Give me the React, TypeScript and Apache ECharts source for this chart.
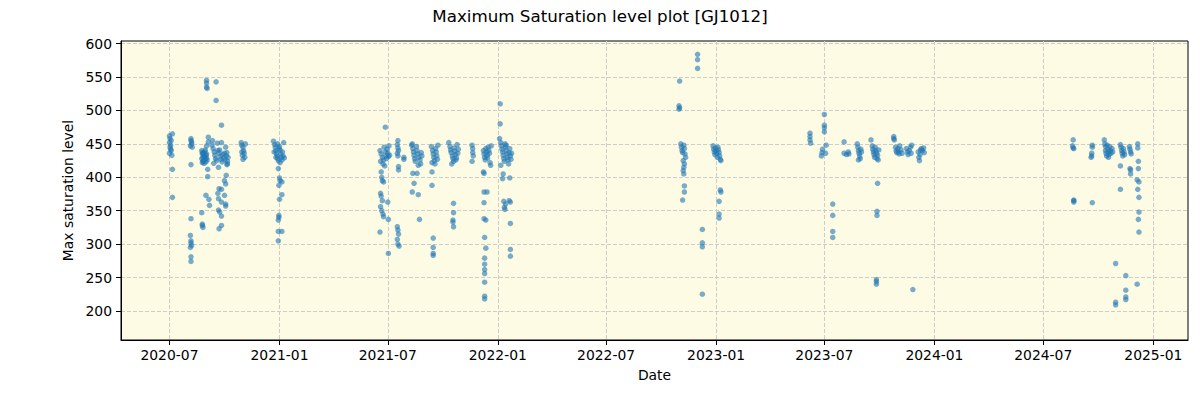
import React, { useEffect, useRef } from "react";
import * as echarts from "echarts";

type Obs = [string, number];

const titleText = "Maximum Saturation level plot [GJ1012]";
const xAxisName = "Date";
const yAxisName = "Max saturation level";

const xTickDates = ["2020-07-01", "2021-01-01", "2021-07-01", "2022-01-01", "2022-07-01", "2023-01-01", "2023-07-01", "2024-01-01", "2024-07-01", "2025-01-01"];
const yTickValues = [200, 250, 300, 350, 400, 450, 500, 550, 600];
const xRange = ["2020-04-11", "2025-02-28"];
const yRange = [156.5, 604];

const obs2020: Obs[] = [
  ["2020-07-01",462],["2020-07-02",458],["2020-07-01",452],["2020-07-03",448],["2020-07-02",445],["2020-07-04",440],["2020-07-01",436],["2020-07-05",433],["2020-07-04",455],["2020-07-06",465],["2020-07-03",442],["2020-07-06",412],["2020-07-06",370],
  ["2020-08-06",458],["2020-08-06",455],["2020-08-07",450],["2020-08-05",447],["2020-08-08",445],["2020-08-07",453],["2020-08-06",419],["2020-08-06",338],["2020-08-05",313],["2020-08-06",305],["2020-08-06",302],["2020-08-07",298],["2020-08-05",295],["2020-08-06",281],["2020-08-06",274],
  ["2020-08-24",440],["2020-08-25",435],["2020-08-26",430],["2020-08-24",428],["2020-08-27",425],["2020-08-25",422],["2020-08-28",432],["2020-08-29",438],["2020-08-30",427],["2020-08-31",433],["2020-09-01",429],["2020-08-27",436],["2020-08-26",424],["2020-08-28",421],["2020-08-30",441],["2020-09-02",426],["2020-08-29",431],["2020-08-25",437],["2020-08-31",423],["2020-09-01",435],
  ["2020-08-24",347],["2020-08-25",330],["2020-08-25",328],["2020-08-26",325],["2020-09-01",545],["2020-09-01",541],["2020-09-01",535],["2020-09-02",533],["2020-08-31",373],["2020-09-03",412],["2020-09-03",401],["2020-09-04",460],["2020-09-04",453],["2020-09-05",367],["2020-09-06",358],["2020-09-01",447],
  ["2020-09-10",448],["2020-09-12",443],["2020-09-14",438],["2020-09-15",433],["2020-09-16",428],["2020-09-18",425],["2020-09-20",440],["2020-09-22",436],["2020-09-24",431],["2020-09-25",427],["2020-09-27",423],["2020-09-28",434],["2020-09-30",429],["2020-10-02",426],["2020-10-04",432],["2020-10-05",437],["2020-10-06",424],["2020-10-07",430],["2020-09-11",455],["2020-09-19",451],["2020-09-26",452],["2020-10-03",445],["2020-09-13",421],["2020-09-23",441],["2020-10-01",436],["2020-10-06",420],
  ["2020-09-17",543],["2020-09-17",515],["2020-09-26",478],["2020-09-21",415],["2020-10-05",419],["2020-10-04",403],["2020-10-01",395],["2020-10-03",390],["2020-09-22",383],["2020-09-26",382],["2020-09-20",376],["2020-10-01",373],["2020-09-21",368],["2020-09-26",363],["2020-10-03",360],["2020-10-03",357],["2020-09-21",351],["2020-09-23",348],["2020-09-26",342],["2020-09-26",328],["2020-09-22",323],
  ["2020-10-29",452],["2020-10-30",448],["2020-11-01",445],["2020-11-02",440],["2020-11-03",436],["2020-10-31",433],["2020-11-04",430],["2020-11-01",427],["2020-11-05",450],["2020-10-30",438],
  ["2020-12-22",454],["2020-12-24",449],["2020-12-25",445],["2020-12-26",440],["2020-12-27",436],["2020-12-28",432],["2020-12-29",428],["2020-12-30",425],["2020-12-31",443],["2020-12-23",438],["2020-12-26",430],["2020-12-29",450],
  ["2021-01-01",446],["2021-01-02",441],["2021-01-03",435],["2021-01-04",430],["2021-01-05",426],["2021-01-06",438],["2021-01-07",432],["2021-01-08",452],["2021-01-02",422],["2021-01-09",429],
  ["2020-12-30",413],["2021-01-01",399],["2021-01-02",395],["2020-12-31",388],["2021-01-05",393],["2021-01-05",374],["2021-01-01",367],["2020-12-31",343],["2020-12-31",340],["2020-12-30",336],["2020-12-30",319],["2021-01-05",319],["2020-12-30",305],
];

const obs2021: Obs[] = [
  ["2021-06-18",440],["2021-06-20",435],["2021-06-22",430],["2021-06-24",426],["2021-06-25",445],["2021-06-27",438],["2021-06-28",432],["2021-06-29",428],["2021-06-30",442],["2021-07-01",436],["2021-07-02",431],["2021-07-03",447],["2021-06-19",424],["2021-06-23",420],["2021-06-26",417],["2021-07-04",433],
  ["2021-06-27",475],["2021-06-20",408],["2021-06-21",400],["2021-06-22",395],["2021-06-24",393],["2021-06-19",376],["2021-06-20",372],["2021-06-22",365],["2021-06-19",356],["2021-06-21",350],["2021-06-23",345],["2021-06-24",341],["2021-07-01",363],["2021-07-02",337],["2021-06-18",318],["2021-07-02",286],
  ["2021-07-18",455],["2021-07-17",449],["2021-07-18",444],["2021-07-19",440],["2021-07-17",436],["2021-07-18",432],["2021-07-19",416],["2021-07-19",411],["2021-07-28",430],["2021-07-28",427],
  ["2021-07-17",326],["2021-07-18",321],["2021-07-19",315],["2021-07-17",307],["2021-07-18",300],["2021-07-20",297],
  ["2021-08-10",448],["2021-08-12",443],["2021-08-13",438],["2021-08-14",433],["2021-08-15",428],["2021-08-16",424],["2021-08-18",446],["2021-08-19",440],["2021-08-20",435],["2021-08-22",430],["2021-08-24",426],["2021-08-25",420],["2021-08-26",437],["2021-08-11",450],["2021-08-21",418],["2021-08-27",432],
  ["2021-08-12",406],["2021-08-19",406],["2021-08-14",391],["2021-08-11",378],["2021-08-21",374],["2021-08-23",337],
  ["2021-09-12",446],["2021-09-14",440],["2021-09-15",435],["2021-09-16",430],["2021-09-17",425],["2021-09-18",420],["2021-09-19",443],["2021-09-20",438],["2021-09-21",432],["2021-09-22",427],["2021-09-23",448],["2021-09-13",422],
  ["2021-09-13",408],["2021-09-13",388],["2021-09-15",309],["2021-09-15",295],["2021-09-15",286],["2021-09-15",283],
  ["2021-10-11",452],["2021-10-13",446],["2021-10-14",441],["2021-10-15",437],["2021-10-17",432],["2021-10-18",428],["2021-10-19",424],["2021-10-20",444],["2021-10-21",439],["2021-10-22",434],["2021-10-24",429],["2021-10-25",449],["2021-10-26",436],["2021-10-27",442],["2021-10-16",420],["2021-10-23",426],
  ["2021-10-19",361],["2021-10-19",347],["2021-10-18",336],["2021-10-18",333],["2021-10-19",326],
  ["2021-11-19",448],["2021-11-20",443],["2021-11-20",437],["2021-11-21",432],["2021-11-19",424],
  ["2021-12-08",440],["2021-12-09",435],["2021-12-10",430],["2021-12-11",426],["2021-12-12",443],["2021-12-13",438],["2021-12-14",433],["2021-12-15",429],["2021-12-16",445],["2021-12-17",440],["2021-12-18",436],["2021-12-19",422],["2021-12-20",418],["2021-12-21",447],
  ["2021-12-08",408],["2021-12-09",406],["2021-12-09",378],["2021-12-14",378],["2021-12-09",362],["2021-12-09",338],["2021-12-12",336],["2021-12-10",310],["2021-12-12",294],["2021-12-10",279],["2021-12-10",270],["2021-12-10",262],["2021-12-10",256],["2021-12-10",243],["2021-12-10",222],["2021-12-10",218],
];

const obs2022: Obs[] = [
  ["2022-01-05",510],["2022-01-05",480],["2022-01-04",458],["2022-01-06",452],["2022-01-07",447],["2022-01-08",442],["2022-01-09",438],["2022-01-10",433],["2022-01-11",428],["2022-01-12",424],["2022-01-13",450],["2022-01-14",445],["2022-01-15",440],["2022-01-16",435],["2022-01-17",430],["2022-01-18",426],["2022-01-19",420],["2022-01-20",437],["2022-01-21",443],["2022-01-22",432],["2022-01-23",427],["2022-01-06",418],["2022-01-15",448],["2022-01-24",436],
  ["2022-01-10",405],["2022-01-09",398],["2022-01-21",399],["2022-01-11",364],["2022-01-14",360],["2022-01-12",355],["2022-01-13",352],["2022-01-20",365],["2022-01-22",363],["2022-01-22",331],["2022-01-22",292],["2022-01-22",282],
  ["2022-11-01",544],["2022-10-31",507],["2022-11-01",504],["2022-10-31",502],["2022-11-03",450],["2022-11-04",445],["2022-11-05",440],["2022-11-06",437],["2022-11-08",448],["2022-11-09",443],["2022-11-10",435],["2022-11-11",430],["2022-11-07",425],["2022-11-09",420],["2022-11-08",415],["2022-11-07",410],["2022-11-08",405],["2022-11-09",387],["2022-11-09",378],["2022-11-06",366],
  ["2022-12-01",584],["2022-12-01",576],["2022-12-01",563],["2022-12-09",322],["2022-12-09",302],["2022-12-09",296],["2022-12-09",225],
  ["2022-12-27",447],["2022-12-28",442],["2022-12-29",438],["2022-12-30",434],["2022-12-31",444],
];

const obs2023: Obs[] = [
  ["2023-01-01",440],["2023-01-02",436],["2023-01-03",430],["2023-01-04",445],["2023-01-05",441],["2023-01-06",437],["2023-01-07",432],["2023-01-08",427],["2023-01-09",425],
  ["2023-01-08",381],["2023-01-09",378],["2023-01-06",364],["2023-01-06",345],["2023-01-06",339],
  ["2023-06-07",466],["2023-06-07",461],["2023-06-07",456],["2023-06-08",451],
  ["2023-07-01",494],["2023-07-01",478],["2023-07-01",474],["2023-07-01",468],["2023-07-04",448],["2023-06-28",442],["2023-06-27",437],["2023-07-03",436],["2023-06-26",432],
  ["2023-07-15",360],["2023-07-15",343],["2023-07-15",319],["2023-07-15",310],
  ["2023-08-03",453],["2023-08-03",436],["2023-08-07",434],["2023-08-10",438],["2023-08-11",435],
  ["2023-08-25",450],["2023-08-26",445],["2023-08-27",440],["2023-08-28",436],["2023-08-29",432],["2023-08-30",428],["2023-08-31",442],["2023-09-01",438],["2023-08-27",426],
  ["2023-09-17",456],["2023-09-19",447],["2023-09-20",442],["2023-09-21",438],["2023-09-22",434],["2023-09-23",430],["2023-09-24",445],["2023-09-25",440],["2023-09-26",436],["2023-09-27",428],["2023-09-28",433],["2023-09-29",426],["2023-09-30",441],
  ["2023-09-28",391],["2023-09-27",349],["2023-09-27",343],["2023-09-26",247],["2023-09-26",244],["2023-09-26",240],
  ["2023-10-25",461],["2023-10-25",458],["2023-10-26",456],["2023-10-28",445],["2023-10-29",440],["2023-10-30",437],["2023-11-01",443],["2023-11-02",438],["2023-11-03",435],["2023-11-04",447],["2023-11-06",441],["2023-11-08",436],
  ["2023-11-15",443],["2023-11-17",438],["2023-11-18",434],["2023-11-20",440],["2023-11-22",445],["2023-11-23",436],["2023-11-24",448],["2023-11-26",232],
  ["2023-12-05",438],["2023-12-06",430],["2023-12-07",425],["2023-12-08",434],["2023-12-09",441],["2023-12-10",443],["2023-12-12",440],["2023-12-14",444],["2023-12-15",437],
];

const obs2024: Obs[] = [
  ["2024-08-20",456],["2024-08-19",447],["2024-08-20",444],["2024-08-21",443],["2024-08-21",366],["2024-08-21",365],["2024-08-21",363],
  ["2024-09-21",448],["2024-09-21",445],["2024-09-20",436],["2024-09-20",432],["2024-09-19",430],["2024-09-21",362],
  ["2024-10-11",456],["2024-10-12",450],["2024-10-13",446],["2024-10-13",440],["2024-10-14",436],["2024-10-15",432],["2024-10-16",448],["2024-10-17",442],["2024-10-18",438],["2024-10-19",434],["2024-10-20",446],["2024-10-21",440],["2024-10-22",436],["2024-10-24",443],["2024-10-25",438],["2024-10-18",430],
  ["2024-10-30",271],["2024-10-30",213],["2024-10-30",209],
  ["2024-11-07",449],["2024-11-08",445],["2024-11-09",440],["2024-11-10",436],["2024-11-11",432],["2024-11-12",443],["2024-11-13",438],["2024-11-14",434],["2024-11-07",417],["2024-11-07",382],
  ["2024-11-16",253],["2024-11-16",231],["2024-11-16",221],["2024-11-16",217],
  ["2024-11-22",446],["2024-11-23",442],["2024-11-24",438],["2024-11-25",435],["2024-11-23",413],["2024-11-24",411],["2024-11-24",405],
  ["2024-12-06",450],["2024-12-06",444],["2024-12-07",424],["2024-12-07",413],["2024-12-05",396],["2024-12-08",393],["2024-12-06",382],["2024-12-08",370],["2024-12-08",348],["2024-12-07",337],["2024-12-08",318],["2024-12-05",240],
];

const FONT = "DejaVu Sans";

function toTime(s: string): number {
  const [y, m, d] = s.split("-").map(Number);
  return Date.UTC(y, m - 1, d);
}

function fmtMonth(val: number): string {
  const d = new Date(val);
  const m = d.getUTCMonth() + 1;
  return d.getUTCFullYear() + "-" + (m < 10 ? "0" + m : "" + m);
}

export default function App() {
  const ref = useRef<HTMLDivElement>(null);
  useEffect(() => {
    if (!ref.current) return;
    const chart = echarts.init(ref.current, undefined, { renderer: "svg" });
    const all = [...obs2020, ...obs2021, ...obs2022, ...obs2023, ...obs2024].map(([d, v]) => [toTime(d), v]);
    const xTicks = xTickDates.map(toTime);
    chart.setOption({
      animation: false,
      backgroundColor: "#ffffff",
      title: {
        text: titleText,
        left: "center",
        top: 2,
        textStyle: { fontFamily: FONT, fontSize: 16.7, fontWeight: "normal", color: "#000" },
      },
      grid: {
        left: 121,
        right: 12,
        top: 41,
        bottom: 60,
        show: true,
        backgroundColor: "#fdfbe3",
        borderColor: "#000",
        borderWidth: 1,
      },
      xAxis: {
        type: "value",
        min: toTime(xRange[0]),
        max: toTime(xRange[1]),
        name: xAxisName,
        nameLocation: "middle",
        nameGap: 28,
        nameTextStyle: { fontFamily: FONT, fontSize: 13.9, color: "#000" },
        axisLine: { show: true, onZero: false, lineStyle: { color: "#000", width: 1 } },
        axisTick: {
          show: true,
          length: 5,
          lineStyle: { color: "#000" },
          customValues: xTicks,
        },
        axisLabel: {
          fontFamily: FONT,
          fontSize: 13.9,
          color: "#000",
          margin: 8,
          customValues: xTicks,
          formatter: (val: number) => fmtMonth(val),
        },
        splitLine: { show: true, lineStyle: { color: "#cccccc", type: [4, 2], width: 1 } },
      },
      yAxis: {
        type: "value",
        min: yRange[0],
        max: yRange[1],
        name: yAxisName,
        nameLocation: "middle",
        nameGap: 42,
        nameRotate: 90,
        nameTextStyle: { fontFamily: FONT, fontSize: 13.9, color: "#000" },
        axisLine: { show: true, onZero: false, lineStyle: { color: "#000", width: 1 } },
        axisTick: {
          show: true,
          length: 5,
          lineStyle: { color: "#000" },
          customValues: yTickValues,
        },
        axisLabel: {
          fontFamily: FONT,
          fontSize: 13.9,
          color: "#000",
          margin: 9,
          customValues: yTickValues,
        },
        splitLine: { show: true, lineStyle: { color: "#cccccc", type: [4, 2], width: 1 } },
      },
      series: [
        {
          type: "scatter",
          data: all,
          symbol: "circle",
          symbolSize: 5.5,
          itemStyle: { color: "#1f77b4", opacity: 0.6 },
        },
      ],
    });
    return () => chart.dispose();
  }, []);
  return <div ref={ref} style={{ position: "absolute", left: 0, top: 0, width: 1200, height: 400 }} />;
}
